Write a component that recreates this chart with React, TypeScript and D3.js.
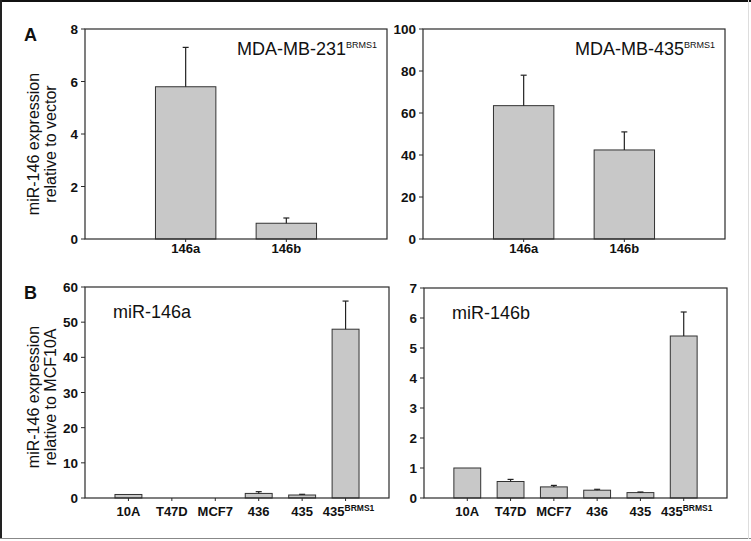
import React from "react";
import * as d3 from "d3";

const catsA = ["146a", "146b"];
const mda231Values = [5.8, 0.6];
const mda231Errors = [7.3, 0.8];
const mda435Values = [63.5, 42.4];
const mda435Errors = [78, 51];

const catsB = ["10A", "T47D", "MCF7", "436", "435", "435BRMS1"];
const mir146aValues = [1.0, 0, 0, 1.3, 0.85, 48];
const mir146aErrors = [1.0, 0, 0, 1.8, 1.05, 56];
const mir146bValues = [1.0, 0.55, 0.37, 0.26, 0.18, 5.4];
const mir146bErrors = [1.0, 0.62, 0.42, 0.29, 0.2, 6.2];

const ticksA1 = [0, 2, 4, 6, 8];
const ticksA2 = [0, 20, 40, 60, 80, 100];
const ticksB1 = [0, 10, 20, 30, 40, 50, 60];
const ticksB2 = [0, 1, 2, 3, 4, 5, 6, 7];

const FONT = "'Liberation Sans', Arial, Helvetica, sans-serif";
const AXIS = "#2a2a2a";
const BAR = "#c8c8c8";

type PanelProps = {
  x0: number; x1: number; y0: number; y1: number;
  cats: string[]; values: number[]; errors: number[];
  ymax: number; ticks: number[]; barFrac: number; labelOffset: number;
  title: string; titleSup?: string; titleAnchor: "start" | "end";
};

function Label({ text, x, y, size, supSize, anchor }: { text: string; x: number; y: number; size: number; supSize: number; anchor: string }) {
  const m = text.match(/^(.*?)(BRMS1)$/);
  if (!m) {
    return (
      <text x={x} y={y} textAnchor={anchor} fontFamily={FONT} fontSize={size} fontWeight="bold" fill="#111">{text}</text>
    );
  }
  return (
    <text x={x} y={y} textAnchor={anchor} fontFamily={FONT} fontSize={size} fontWeight="bold" fill="#111">
      {m[1]}
      <tspan fontSize={supSize} dy={-5}>{m[2]}</tspan>
    </text>
  );
}

function Panel(p: PanelProps) {
  const x = d3.scalePoint<string>().domain(p.cats).range([p.x0, p.x1]).padding(1);
  const y = d3.scaleLinear().domain([0, p.ymax]).range([p.y1, p.y0]);
  const slot = (p.x1 - p.x0) / (p.cats.length + 1);
  const bw = slot * p.barFrac;
  return (
    <g>
      {p.cats.map((c, i) => {
        const cx = x(c)!;
        const v = p.values[i];
        const e = p.errors[i];
        return (
          <g key={c}>
            {v > 0 && (
              <rect x={cx - bw / 2} y={y(v)} width={bw} height={y(0) - y(v)} fill={BAR} stroke="#333" strokeWidth={1} />
            )}
            {e > v && (
              <g stroke="#222" strokeWidth={1.2}>
                <line x1={cx} x2={cx} y1={y(v)} y2={y(e)} />
                <line x1={cx - 3} x2={cx + 3} y1={y(e)} y2={y(e)} />
              </g>
            )}
            <line x1={cx} x2={cx} y1={p.y1} y2={p.y1 + 3} stroke={AXIS} strokeWidth={1} />
            <Label text={c} x={cx + (c.endsWith("BRMS1") ? 3 : 0)} y={p.y1 + p.labelOffset} size={13} supSize={8.5} anchor="middle" />
          </g>
        );
      })}
      {p.ticks.map((t) => (
        <g key={t}>
          <line x1={p.x0 - 4} x2={p.x0} y1={y(t)} y2={y(t)} stroke={AXIS} strokeWidth={1} />
          <text x={p.x0 - 7} y={y(t) + 5} textAnchor="end" fontFamily={FONT} fontSize={13.5} fontWeight="bold" fill="#111">{t}</text>
        </g>
      ))}
      <rect x={p.x0} y={p.y0} width={p.x1 - p.x0} height={p.y1 - p.y0} fill="none" stroke={AXIS} strokeWidth={1.2} />
      <text
        x={p.titleAnchor === "end" ? p.x1 - 10 : p.x0 + 28}
        y={p.titleAnchor === "end" ? p.y0 + 26 : p.y0 + 31}
        textAnchor={p.titleAnchor}
        fontFamily={FONT}
        fontSize={18}
        fill="#111"
      >
        {p.title}
        {p.titleSup && <tspan fontSize={9} dy={-7}>{p.titleSup}</tspan>}
      </text>
    </g>
  );
}

function YLabel({ lines, cx, cy }: { lines: string[]; cx: number; cy: number }) {
  return (
    <g transform={`translate(${cx},${cy}) rotate(-90)`}>
      {lines.map((l, i) => (
        <text key={i} x={0} y={(i - (lines.length - 1) / 2) * 17 + 5} textAnchor="middle" fontFamily={FONT} fontSize={16} fill="#111">{l}</text>
      ))}
    </g>
  );
}

export default function App() {
  return (
    <svg width={751} height={541} style={{ position: "absolute", left: 0, top: 0, background: "#fff" }}>
      <rect x={0} y={0} width={751} height={541} fill="#fff" />
      <line x1={0} x2={751} y1={1} y2={1} stroke="#111" strokeWidth={2} />
      <line x1={1} x2={1} y1={0} y2={539} stroke="#222" strokeWidth={2} />
      <line x1={0} x2={751} y1={538.5} y2={538.5} stroke="#888" strokeWidth={1.2} />
      <line x1={748.5} x2={748.5} y1={0} y2={539} stroke="#ddd" strokeWidth={1} />

      <text x={24} y={41} fontFamily={FONT} fontSize={18} fontWeight="bold" fill="#111">A</text>
      <text x={24} y={299} fontFamily={FONT} fontSize={18} fontWeight="bold" fill="#111">B</text>

      <YLabel lines={["miR-146 expression", "relative to vector"]} cx={42} cy={144} />
      <YLabel lines={["miR-146 expression", "relative to MCF10A"]} cx={42} cy={397} />

      <Panel x0={85} x1={387} y0={29} y1={239} cats={catsA} values={mda231Values} errors={mda231Errors}
        ymax={8} ticks={ticksA1} barFrac={0.6} labelOffset={14} title="MDA-MB-231" titleSup="BRMS1" titleAnchor="end" />
      <Panel x0={423} x1={725} y0={29} y1={239} cats={catsA} values={mda435Values} errors={mda435Errors}
        ymax={100} ticks={ticksA2} barFrac={0.6} labelOffset={14} title="MDA-MB-435" titleSup="BRMS1" titleAnchor="end" />
      <Panel x0={85} x1={389} y0={287} y1={498} cats={catsB} values={mir146aValues} errors={mir146aErrors}
        ymax={60} ticks={ticksB1} barFrac={0.62} labelOffset={18} title="miR-146a" titleAnchor="start" />
      <Panel x0={424} x1={727} y0={288} y1={498} cats={catsB} values={mir146bValues} errors={mir146bErrors}
        ymax={7} ticks={ticksB2} barFrac={0.62} labelOffset={18} title="miR-146b" titleAnchor="start" />
    </svg>
  );
}
